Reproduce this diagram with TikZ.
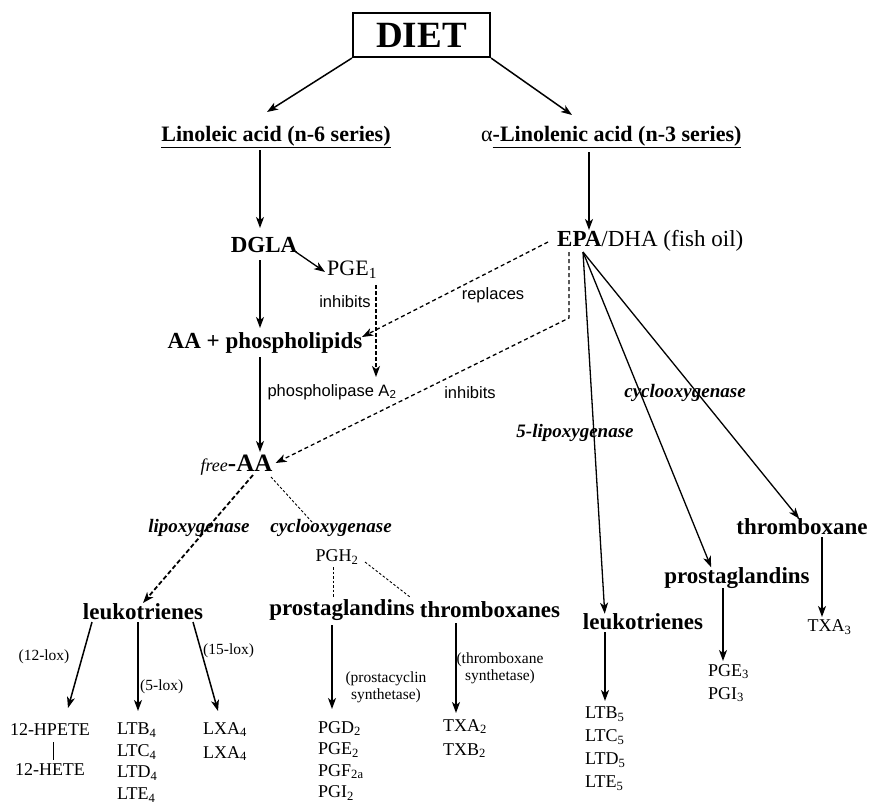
\documentclass[tikz,border=0pt]{standalone}
\usepackage{fontspec}
\setmainfont{Liberation Serif}
\setsansfont{Liberation Sans}
\usetikzlibrary{arrows.meta,calc}

\begin{document}
\begin{tikzpicture}[x=1pt, y=-1pt,
  box/.style={draw, line width=2.2pt, minimum width=137pt, minimum height=44pt, inner sep=0pt, font=\fontsize{37}{40}\selectfont\bfseries},
  ttl/.style={inner sep=0pt, font=\fontsize{22}{26}\selectfont\bfseries},
  hd/.style={inner sep=0pt, font=\fontsize{23}{27}\selectfont\bfseries},
  cmp/.style={inner sep=0pt, font=\fontsize{18}{21.5}\selectfont, align=left},
  enz/.style={inner sep=0pt, font=\fontsize{19}{22}\selectfont\bfseries\itshape},
  act/.style={inner sep=0pt, font=\fontsize{16.5}{19}\selectfont\sffamily},
  note/.style={inner sep=0pt, font=\fontsize{15.5}{17}\selectfont, align=center},
  arr/.style={-{Stealth[length=11pt,width=8pt,inset=3pt]}, line width=1.5pt},
  fanarr/.style={arr, line width=1.3pt},
  dsh/.style={dash pattern=on 4pt off 3pt, line width=1.3pt},
  dot/.style={dash pattern=on 2.5pt off 2pt, line width=0.9pt}]
  \useasboundingbox (0,0) rectangle (870,811);

  % top
  \node[box] (diet) at (421.5,35) {DIET};
  \node[ttl] (lin6) at (276,137) {\underline{Linoleic acid (n-6 series)}};
  \node[ttl, anchor=west] (lin3) at (481,137) {\textmd{α}\underline{-Linolenic acid (n-3 series)}};
  \draw[arr] (diet.south west) -- ($(lin6)+(-9,-25)$);
  \draw[arr] (diet.south east) -- ($(lin3.west)+(91,-22)$);

  % n-6 side
  \node[hd] (dgla) at (264,245) {DGLA};
  \node[inner sep=0pt, font=\fontsize{22}{26}\selectfont, anchor=west] (pge1) at (327,270) {PGE\textsubscript{1}};
  \node[act] (inh1) at (345,302) {inhibits};
  \node[hd] (aaph) at (265,343) {AA + phospholipids};
  \node[act] (pla2) at (332,392) {phospholipase A\textsubscript{2}};
  \node[inner sep=0pt, font=\fontsize{25}{28}\selectfont\bfseries] (faa) at (236.5,465) {{\fontsize{18}{20}\selectfont\mdseries\itshape free}-AA};
  \draw[arr] ($(lin6)+(-16,13)$) -- ($(dgla)+(-4,-17)$);
  \draw[arr, line width=1.3pt] ($(dgla)+(29,5)$) -- ($(pge1.west)+(-2,2)$);
  \draw[arr] ($(dgla)+(-4,15)$) -- ($(aaph)+(-5,-15)$);
  \draw[arr, dash pattern=on 3.5pt off 2.5pt, line width=1.2pt] ($(pge1.west)+(49,15)$) -- ($(pla2)+(44,-15)$);
  \draw[arr] ($(aaph)+(-5,14)$) -- ($(faa)+(23.5,-13)$);

  % n-3 side
  \node[inner sep=0pt, font=\fontsize{23}{27}\selectfont, anchor=west] (epa) at (557,241) {\textbf{EPA}/DHA (fish oil)};
  \node[act] (repl) at (493,295) {replaces};
  \node[act] (inh2) at (470,393) {inhibits};
  \draw[arr] ($(lin3.west)+(108,15)$) -- ($(epa.west)+(32,-11)$);
  \draw[arr, dsh] ($(epa.west)+(-9,1)$) -- ($(aaph)+(97,-6)$);
  \coordinate (bend) at ($(epa.west)+(12,77)$);
  \draw[arr, dsh] ($(epa.west)+(12,11)$) -- (bend) -- ($(faa.east)+(3,-2)$);

  % arachidonic cascade
  \node[enz] (lipox) at (199,528) {lipoxygenase};
  \node[enz] (cox) at (331,528) {cyclooxygenase};
  \node[cmp] (pgh2) at (337,557) {PGH\textsubscript{2}};
  \node[hd] (lt4) at (143,612) {leukotrienes};
  \node[hd] (pg2) at (342,610) {prostaglandins};
  \node[hd] (tx2) at (490,610) {thromboxanes};
  \draw[arr, dash pattern=on 4.5pt off 2.5pt, line width=1.8pt] ($(faa)+(16.5,10)$) -- ($(lt4)+(0,-9)$);
  \draw[dot] ($(faa)+(34.5,12)$) -- ($(cox)+(-19,-6)$);
  \draw[dot] ($(pgh2)+(-4,10)$) -- ($(pg2)+(-9,-12)$);
  \draw[dot] ($(pgh2)+(28,5)$) -- ($(tx2)+(-80,-13)$);

  % leukotrienes (n-6)
  \node[cmp] (hpete) at (50,730) {12-HPETE};
  \node[cmp] (hete) at (50,770) {12-HETE};
  \node[cmp, anchor=north west] (ltl4) at (117,723) {LTB\textsubscript{4}\\LTC\textsubscript{4}\\LTD\textsubscript{4}\\LTE\textsubscript{4}};
  \node[cmp, anchor=north west, font=\fontsize{18}{24}\selectfont] (lxa) at (203,722) {LXA\textsubscript{4}\\LXA\textsubscript{4}};
  \node[note] (lox12) at (44,657) {(12-lox)};
  \node[note, anchor=west] (lox5) at (140,687) {(5-lox)};
  \node[note, anchor=west] (lox15) at (203,651) {(15-lox)};
  \draw[arr] ($(lt4)+(-51,10)$) -- ($(hpete)+(18,-22)$);
  \draw[arr] ($(lt4)+(-5,10)$) -- ($(ltl4.north west)+(21,-12)$);
  \draw[arr] ($(lt4)+(50,10)$) -- ($(lxa.north west)+(15,-11)$);
  \draw[line width=0.8pt] ($(hpete)+(3,12)$) -- ($(hete)+(3,-10)$);

  % prostaglandins / thromboxanes (n-6)
  \node[cmp, anchor=north west] (pgl2) at (318,721) {PGD\textsubscript{2}\\PGE\textsubscript{2}\\PGF\textsubscript{2a}\\PGI\textsubscript{2}};
  \node[cmp, anchor=north west, font=\fontsize{18}{24}\selectfont] (txl2) at (443,719) {TXA\textsubscript{2}\\TXB\textsubscript{2}};
  \node[note] (pcs) at (386,687) {(prostacyclin\\synthetase)};
  \node[note] (txs) at (500,668) {(thromboxane\\synthetase)};
  \draw[arr] ($(pg2)+(-10,15)$) -- ($(pgl2.north west)+(14,-12)$);
  \draw[arr] ($(tx2)+(-34,13)$) -- ($(txl2.north west)+(13,-6)$);

  % fish oil products (n-3)
  \node[enz] (lox5b) at (575,433) {5-lipoxygenase};
  \node[enz] (coxb) at (685,393) {cyclooxygenase};
  \node[hd] (lt5) at (643,622) {leukotrienes};
  \node[hd] (pg3) at (737,578) {prostaglandins};
  \node[hd] (tx3) at (802,527) {thromboxane};
  \coordinate (fan) at ($(epa.west)+(26,11)$);
  \draw[fanarr] (fan) -- ($(lt5.north west)+(22,0)$);
  \draw[fanarr] (fan) -- ($(pg3.north west)+(47,0)$);
  \draw[fanarr] (fan) -- ($(tx3.north west)+(63,0)$);
  \node[cmp, anchor=north west, font=\fontsize{18}{23}\selectfont] (ltl5) at (585,707) {LTB\textsubscript{5}\\LTC\textsubscript{5}\\LTD\textsubscript{5}\\LTE\textsubscript{5}};
  \node[cmp, anchor=north west, font=\fontsize{18}{23}\selectfont] (pgl3) at (708,664) {PGE\textsubscript{3}\\PGI\textsubscript{3}};
  \node[cmp] (txa3) at (829.5,627) {TXA\textsubscript{3}};
  \draw[arr] ($(lt5)+(-38,10)$) -- ($(ltl5.north west)+(20,-6)$);
  \draw[arr] ($(pg3)+(-14,10)$) -- ($(pgl3.north west)+(15,-3)$);
  \draw[arr] ($(tx3)+(20,10)$) -- ($(txa3)+(-7.5,-10)$);
\end{tikzpicture}
\end{document}
